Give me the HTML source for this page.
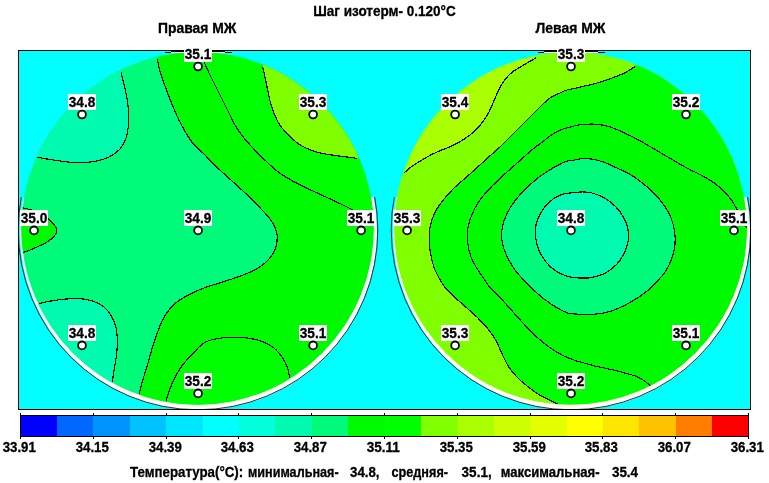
<!DOCTYPE html>
<html lang="ru"><head><meta charset="utf-8"><title>Термограмма</title>
<style>
html,body{margin:0;padding:0;background:#fff}
body{width:769px;height:483px;overflow:hidden}
svg{display:block}
text{font-family:"Liberation Sans",Arial,sans-serif;font-weight:bold;font-size:14px;fill:#000;stroke:#000;stroke-width:.3px}
.ct{fill:none;stroke:#000;stroke-width:1.2}
</style></head><body>
<svg width="769" height="483" viewBox="0 0 769 483">
<rect width="769" height="483" fill="#fff"/>
<defs>
<clipPath id="frame"><rect x="19" y="51" width="731" height="358"/></clipPath>
<clipPath id="low"><rect x="19" y="197" width="731" height="212"/></clipPath>
<clipPath id="cl"><circle cx="197.5" cy="228.4" r="176.2"/></clipPath>
<clipPath id="cr"><circle cx="570.5" cy="228.4" r="176.2"/></clipPath>
</defs>
<rect x="18.5" y="50.5" width="732" height="359" fill="#00ffff" stroke="#000" stroke-width="1"/>
<g clip-path="url(#frame)">
<g clip-path="url(#low)"><circle cx="198.5" cy="231.5" r="178.5" fill="#fff"/><circle cx="198" cy="230" r="179.8" fill="none" stroke="#000" stroke-width="0.8"/><circle cx="571.5" cy="231.5" r="178.5" fill="#fff"/><circle cx="571" cy="230" r="179.8" fill="none" stroke="#000" stroke-width="0.8"/></g>
<rect x="171" y="51" width="13" height="1" fill="#000"/><rect x="171" y="52" width="13" height="1" fill="#fff"/><rect x="165" y="52" width="6" height="1" fill="#000"/><rect x="212" y="51" width="13" height="1" fill="#000"/><rect x="212" y="52" width="13" height="1" fill="#fff"/><rect x="225" y="52" width="7" height="1" fill="#000"/>
<rect x="544" y="51" width="13" height="1" fill="#000"/><rect x="544" y="52" width="13" height="1" fill="#fff"/><rect x="538" y="52" width="6" height="1" fill="#000"/><rect x="585" y="51" width="13" height="1" fill="#000"/><rect x="585" y="52" width="13" height="1" fill="#fff"/><rect x="598" y="52" width="7" height="1" fill="#000"/>
<g clip-path="url(#cl)" shape-rendering="crispEdges">
<rect x="0" y="40" width="400" height="380" fill="#00fa7a"/>
<path d="M121.1 72.2C121.5 74.0 122.6 78.7 123.6 83.0C124.6 87.3 126.1 92.9 126.9 97.9C127.7 102.9 128.4 107.9 128.6 112.9C128.8 117.9 128.5 123.7 128.1 127.9C127.7 132.1 127.5 134.4 126.1 137.9C124.7 141.4 122.6 146.0 119.9 149.1C117.2 152.2 113.7 154.6 109.9 156.6C106.2 158.6 101.6 159.9 97.4 160.9C93.2 161.9 89.1 162.2 84.9 162.4C80.7 162.7 76.6 162.7 72.4 162.4C68.2 162.2 64.0 161.5 59.9 160.9C55.8 160.3 51.2 159.7 47.5 159.1C43.8 158.5 39.2 157.4 37.5 157.1L0.0 157.0L0.0 40.0L121.0 40.0Z" fill="#00fab0"/>
<path d="M38.7 303.5C41.8 302.9 50.9 300.8 57.4 300.0C63.9 299.2 71.6 298.3 77.4 298.5C83.2 298.7 88.0 299.6 92.4 301.0C96.8 302.4 100.5 304.3 103.6 306.7C106.7 309.1 109.0 311.9 111.1 315.5C113.2 319.1 115.0 323.4 116.1 328.0C117.1 332.6 117.4 337.9 117.4 342.9C117.4 347.9 116.7 352.9 116.1 357.9C115.5 362.9 114.2 368.8 113.6 372.9C113.0 377.0 112.6 380.8 112.4 382.4L112.0 420.0L0.0 420.0L0.0 303.0Z" fill="#00fab0"/>
<path d="M157.3 59.2C157.7 61.1 158.6 66.1 159.8 70.5C161.1 74.9 162.9 80.3 164.8 85.5C166.7 90.7 168.7 96.1 171.0 101.7C173.3 107.3 176.0 114.0 178.5 119.2C181.0 124.4 183.5 128.8 186.0 132.9C188.5 137.1 190.5 140.6 193.5 144.1C196.5 147.6 200.0 150.1 204.0 154.1C208.0 158.1 213.1 163.6 217.7 168.0C222.3 172.4 226.7 176.1 231.5 180.5C236.3 184.9 241.6 189.6 246.4 194.2C251.2 198.8 256.2 203.8 260.2 208.0C264.2 212.2 267.7 215.9 270.2 219.2C272.7 222.5 274.0 225.2 275.1 227.9C276.2 230.6 276.9 232.5 277.1 235.4C277.3 238.3 277.1 242.3 276.4 245.4C275.7 248.5 274.6 251.2 272.7 254.1C270.8 257.0 268.3 260.2 265.2 262.9C262.1 265.6 258.3 268.1 253.9 270.4C249.5 272.7 244.3 274.6 238.9 276.6C233.5 278.6 227.3 280.5 221.5 282.4C215.7 284.3 209.3 286.0 204.0 288.0C198.7 290.0 194.2 291.9 189.8 294.2C185.4 296.5 180.9 299.0 177.3 301.7C173.8 304.4 171.0 307.4 168.5 310.5C166.0 313.6 164.2 316.8 162.3 320.5C160.4 324.2 159.0 328.3 157.3 332.9C155.6 337.5 154.0 342.5 152.3 347.9C150.6 353.3 149.0 359.8 147.3 365.4C145.6 371.0 143.7 376.8 142.3 381.6C140.9 386.4 139.6 392.0 139.1 394.1L139.0 420.0L400.0 420.0L400.0 40.0L157.0 40.0Z" fill="#00fa00"/>
<path d="M19.0 207.5C19.8 207.6 22.1 207.7 23.7 208.0C25.3 208.3 26.0 208.4 28.7 209.2C31.4 210.0 36.7 211.3 40.0 213.0C43.3 214.7 46.4 217.3 48.7 219.2C51.0 221.1 52.4 222.5 53.7 224.2C55.0 225.9 56.5 227.3 56.7 229.2C56.9 231.1 56.4 233.3 54.9 235.4C53.4 237.5 50.8 239.6 47.5 241.7C44.2 243.8 39.0 246.1 35.0 247.9C31.0 249.7 26.4 251.4 23.7 252.4C21.0 253.4 19.8 253.7 19.0 254.0L0.0 254.0L0.0 207.0Z" fill="#00fa00"/>
<path d="M203.5 59.0C203.6 59.6 202.8 58.8 204.3 62.4C205.8 66.0 209.8 74.6 212.7 80.5C215.6 86.4 218.8 92.5 221.5 97.9C224.2 103.3 226.7 108.3 229.0 112.9C231.3 117.5 232.7 121.2 235.2 125.4C237.7 129.6 240.8 134.0 243.9 137.9C247.0 141.8 250.6 145.6 253.9 149.1C257.2 152.6 260.6 155.9 263.9 159.1C267.1 162.2 270.5 165.5 273.4 168.0C276.3 170.5 278.0 171.9 281.4 174.2C284.8 176.5 289.7 179.4 293.9 181.7C298.1 184.0 301.4 185.6 306.4 188.0C311.4 190.4 318.4 193.5 323.8 196.0C329.2 198.5 334.2 200.8 338.8 203.0C343.4 205.2 348.1 207.6 351.3 209.2C354.5 210.8 355.4 211.3 358.0 212.5C360.6 213.7 363.7 215.1 367.0 216.5C370.3 217.9 376.2 220.2 378.0 221.0L400.0 221.0L400.0 40.0L203.0 40.0Z" fill="#00ff00"/>
<path d="M166.1 400.4C166.7 398.5 168.4 392.9 169.8 389.1C171.2 385.4 172.7 381.8 174.8 377.9C176.9 373.9 179.4 369.3 182.3 365.4C185.2 361.4 188.7 357.9 192.3 354.2C195.9 350.4 200.0 345.5 204.0 342.9C208.0 340.3 211.9 339.6 216.5 338.7C221.1 337.8 226.5 337.3 231.5 337.2C236.5 337.1 241.4 337.2 246.4 337.9C251.4 338.6 256.8 339.5 261.4 341.2C266.0 342.9 270.4 345.1 273.9 347.9C277.4 350.7 280.3 354.6 282.6 357.9C284.9 361.2 286.4 364.5 287.6 367.9C288.8 371.3 289.3 376.6 289.6 378.4L290.0 420.0L166.0 420.0Z" fill="#00ff00"/>
<path d="M262.7 66.7C263.1 68.6 264.4 74.0 265.2 78.0C266.0 82.0 266.9 86.5 267.7 90.4C268.5 94.4 269.2 98.0 270.2 101.7C271.2 105.5 272.2 109.0 273.9 112.9C275.5 116.9 277.6 121.7 280.1 125.4C282.6 129.2 285.8 132.3 288.9 135.4C292.0 138.5 295.1 141.6 298.9 144.1C302.6 146.6 306.8 148.7 311.4 150.4C316.0 152.1 320.9 153.1 326.3 154.1C331.7 155.1 338.6 155.9 343.8 156.6C349.0 157.3 355.2 158.1 357.5 158.4L400.0 158.0L400.0 40.0L262.0 40.0Z" fill="#80ff00"/>
<path class="ct" d="M121.1 72.2C121.5 74.0 122.6 78.7 123.6 83.0C124.6 87.3 126.1 92.9 126.9 97.9C127.7 102.9 128.4 107.9 128.6 112.9C128.8 117.9 128.5 123.7 128.1 127.9C127.7 132.1 127.5 134.4 126.1 137.9C124.7 141.4 122.6 146.0 119.9 149.1C117.2 152.2 113.7 154.6 109.9 156.6C106.2 158.6 101.6 159.9 97.4 160.9C93.2 161.9 89.1 162.2 84.9 162.4C80.7 162.7 76.6 162.7 72.4 162.4C68.2 162.2 64.0 161.5 59.9 160.9C55.8 160.3 51.2 159.7 47.5 159.1C43.8 158.5 39.2 157.4 37.5 157.1"/>
<path class="ct" d="M157.3 59.2C157.7 61.1 158.6 66.1 159.8 70.5C161.1 74.9 162.9 80.3 164.8 85.5C166.7 90.7 168.7 96.1 171.0 101.7C173.3 107.3 176.0 114.0 178.5 119.2C181.0 124.4 183.5 128.8 186.0 132.9C188.5 137.1 190.5 140.6 193.5 144.1C196.5 147.6 200.0 150.1 204.0 154.1C208.0 158.1 213.1 163.6 217.7 168.0C222.3 172.4 226.7 176.1 231.5 180.5C236.3 184.9 241.6 189.6 246.4 194.2C251.2 198.8 256.2 203.8 260.2 208.0C264.2 212.2 267.7 215.9 270.2 219.2C272.7 222.5 274.0 225.2 275.1 227.9C276.2 230.6 276.9 232.5 277.1 235.4C277.3 238.3 277.1 242.3 276.4 245.4C275.7 248.5 274.6 251.2 272.7 254.1C270.8 257.0 268.3 260.2 265.2 262.9C262.1 265.6 258.3 268.1 253.9 270.4C249.5 272.7 244.3 274.6 238.9 276.6C233.5 278.6 227.3 280.5 221.5 282.4C215.7 284.3 209.3 286.0 204.0 288.0C198.7 290.0 194.2 291.9 189.8 294.2C185.4 296.5 180.9 299.0 177.3 301.7C173.8 304.4 171.0 307.4 168.5 310.5C166.0 313.6 164.2 316.8 162.3 320.5C160.4 324.2 159.0 328.3 157.3 332.9C155.6 337.5 154.0 342.5 152.3 347.9C150.6 353.3 149.0 359.8 147.3 365.4C145.6 371.0 143.7 376.8 142.3 381.6C140.9 386.4 139.6 392.0 139.1 394.1"/>
<path class="ct" d="M203.5 59.0C203.6 59.6 202.8 58.8 204.3 62.4C205.8 66.0 209.8 74.6 212.7 80.5C215.6 86.4 218.8 92.5 221.5 97.9C224.2 103.3 226.7 108.3 229.0 112.9C231.3 117.5 232.7 121.2 235.2 125.4C237.7 129.6 240.8 134.0 243.9 137.9C247.0 141.8 250.6 145.6 253.9 149.1C257.2 152.6 260.6 155.9 263.9 159.1C267.1 162.2 270.5 165.5 273.4 168.0C276.3 170.5 278.0 171.9 281.4 174.2C284.8 176.5 289.7 179.4 293.9 181.7C298.1 184.0 301.4 185.6 306.4 188.0C311.4 190.4 318.4 193.5 323.8 196.0C329.2 198.5 334.2 200.8 338.8 203.0C343.4 205.2 348.1 207.6 351.3 209.2C354.5 210.8 355.4 211.3 358.0 212.5C360.6 213.7 363.7 215.1 367.0 216.5C370.3 217.9 376.2 220.2 378.0 221.0"/>
<path class="ct" d="M262.7 66.7C263.1 68.6 264.4 74.0 265.2 78.0C266.0 82.0 266.9 86.5 267.7 90.4C268.5 94.4 269.2 98.0 270.2 101.7C271.2 105.5 272.2 109.0 273.9 112.9C275.5 116.9 277.6 121.7 280.1 125.4C282.6 129.2 285.8 132.3 288.9 135.4C292.0 138.5 295.1 141.6 298.9 144.1C302.6 146.6 306.8 148.7 311.4 150.4C316.0 152.1 320.9 153.1 326.3 154.1C331.7 155.1 338.6 155.9 343.8 156.6C349.0 157.3 355.2 158.1 357.5 158.4"/>
<path class="ct" d="M19.0 207.5C19.8 207.6 22.1 207.7 23.7 208.0C25.3 208.3 26.0 208.4 28.7 209.2C31.4 210.0 36.7 211.3 40.0 213.0C43.3 214.7 46.4 217.3 48.7 219.2C51.0 221.1 52.4 222.5 53.7 224.2C55.0 225.9 56.5 227.3 56.7 229.2C56.9 231.1 56.4 233.3 54.9 235.4C53.4 237.5 50.8 239.6 47.5 241.7C44.2 243.8 39.0 246.1 35.0 247.9C31.0 249.7 26.4 251.4 23.7 252.4C21.0 253.4 19.8 253.7 19.0 254.0"/>
<path class="ct" d="M38.7 303.5C41.8 302.9 50.9 300.8 57.4 300.0C63.9 299.2 71.6 298.3 77.4 298.5C83.2 298.7 88.0 299.6 92.4 301.0C96.8 302.4 100.5 304.3 103.6 306.7C106.7 309.1 109.0 311.9 111.1 315.5C113.2 319.1 115.0 323.4 116.1 328.0C117.1 332.6 117.4 337.9 117.4 342.9C117.4 347.9 116.7 352.9 116.1 357.9C115.5 362.9 114.2 368.8 113.6 372.9C113.0 377.0 112.6 380.8 112.4 382.4"/>
<path class="ct" d="M166.1 400.4C166.7 398.5 168.4 392.9 169.8 389.1C171.2 385.4 172.7 381.8 174.8 377.9C176.9 373.9 179.4 369.3 182.3 365.4C185.2 361.4 188.7 357.9 192.3 354.2C195.9 350.4 200.0 345.5 204.0 342.9C208.0 340.3 211.9 339.6 216.5 338.7C221.1 337.8 226.5 337.3 231.5 337.2C236.5 337.1 241.4 337.2 246.4 337.9C251.4 338.6 256.8 339.5 261.4 341.2C266.0 342.9 270.4 345.1 273.9 347.9C277.4 350.7 280.3 354.6 282.6 357.9C284.9 361.2 286.4 364.5 287.6 367.9C288.8 371.3 289.3 376.6 289.6 378.4"/>
</g>
<g clip-path="url(#cr)" shape-rendering="crispEdges">
<rect x="380" y="40" width="400" height="380" fill="#aaff00"/>
<path d="M535.8 58.0C533.6 59.2 526.6 63.2 522.8 65.5C519.0 67.8 515.7 69.4 512.8 71.7C509.9 74.0 507.6 76.3 505.3 79.2C503.0 82.1 501.0 85.7 499.1 89.2C497.2 92.7 495.8 96.7 494.1 100.4C492.4 104.2 491.0 108.2 489.1 111.7C487.2 115.2 485.4 118.4 482.9 121.7C480.4 125.0 477.4 128.6 474.1 131.6C470.8 134.6 466.8 137.4 462.9 139.9C458.9 142.4 454.6 144.7 450.4 146.6C446.2 148.5 442.1 149.7 437.9 151.6C433.7 153.5 429.8 155.4 425.4 157.9C421.0 160.4 415.3 164.1 411.7 166.6C408.1 169.1 405.3 171.9 404.0 173.0L380.0 173.0L380.0 440.0L780.0 440.0L780.0 40.0L536.0 40.0Z" fill="#80ff00"/>
<path d="M634.9 66.7C633.1 67.8 628.2 71.1 624.4 73.0C620.6 74.9 616.6 76.3 612.0 78.0C607.4 79.7 602.0 81.5 597.0 83.0C592.0 84.5 587.0 85.5 582.0 86.7C577.0 87.9 570.2 89.2 567.0 90.0C563.8 90.8 565.6 90.4 562.8 91.7C560.0 93.0 554.0 95.4 550.3 97.9C546.5 100.4 543.6 103.6 540.3 106.7C537.0 109.8 533.6 113.4 530.3 116.7C527.0 120.0 523.6 123.4 520.3 126.7C517.0 130.0 513.6 133.3 510.3 136.6C507.0 139.9 503.9 143.3 500.4 146.6C496.9 149.9 493.1 153.0 489.1 156.6C485.1 160.2 480.6 164.4 476.6 168.0C472.7 171.6 469.3 174.5 465.4 178.0C461.4 181.5 456.6 185.4 452.9 189.2C449.1 192.9 445.8 196.8 442.9 200.5C440.0 204.2 437.5 207.5 435.4 211.7C433.3 215.8 431.4 220.6 430.4 225.4C429.4 230.2 429.2 235.8 429.2 240.4C429.2 245.0 429.6 248.3 430.4 252.9C431.2 257.5 432.5 263.3 434.2 267.9C435.9 272.5 438.5 277.0 440.4 280.4C442.3 283.8 443.1 285.3 445.4 288.0C447.7 290.7 450.9 293.6 454.2 296.7C457.5 299.8 461.4 303.1 465.4 306.7C469.3 310.2 473.9 314.1 477.9 318.0C481.8 321.9 486.0 326.4 489.1 330.4C492.2 334.3 494.5 337.9 496.6 341.7C498.7 345.4 499.7 348.9 501.6 352.9C503.5 356.8 505.3 361.4 507.8 365.4C510.3 369.3 513.3 373.1 516.6 376.6C519.9 380.1 523.8 383.5 527.8 386.6C531.8 389.7 536.1 392.9 540.3 395.4C544.5 397.9 549.9 400.2 552.8 401.6C555.7 403.1 557.0 403.7 557.8 404.1L558.0 440.0L780.0 440.0L780.0 40.0L635.0 40.0Z" fill="#00ff00"/>
<path d="M750.0 232.0C748.8 230.3 745.2 225.8 743.0 222.0C740.8 218.2 738.7 212.8 736.8 209.2C734.9 205.6 733.9 203.4 731.8 200.5C729.7 197.6 727.2 194.6 724.3 191.7C721.4 188.8 718.0 185.7 714.3 183.0C710.5 180.3 706.4 178.0 701.8 175.5C697.2 173.0 692.3 170.9 686.9 168.0C681.5 165.1 674.8 161.1 669.4 157.9C664.0 154.8 659.4 152.0 654.4 149.1C649.4 146.2 644.4 143.1 639.4 140.4C634.4 137.7 629.4 135.2 624.4 132.9C619.4 130.6 614.4 128.2 609.4 126.7C604.4 125.2 599.5 124.5 594.5 124.2C589.5 123.9 584.1 124.3 579.5 124.9C574.9 125.5 569.8 127.2 567.0 127.9C564.2 128.6 565.2 128.1 562.8 129.1C560.4 130.1 556.1 132.0 552.8 134.1C549.5 136.2 546.1 139.1 542.8 141.6C539.5 144.1 536.1 146.4 532.8 149.1C529.5 151.8 526.3 154.8 522.8 157.9C519.3 161.1 515.3 164.7 511.6 168.0C507.9 171.3 504.3 174.2 500.4 178.0C496.4 181.8 491.6 186.3 487.9 190.5C484.1 194.7 480.6 198.8 477.9 203.0C475.2 207.2 473.3 211.2 471.6 215.4C469.9 219.6 468.6 223.7 467.9 227.9C467.2 232.1 467.0 235.8 467.4 240.4C467.8 245.0 468.9 250.8 470.4 255.4C471.9 260.0 474.3 263.9 476.6 267.9C478.9 271.8 481.8 275.8 484.1 279.1C486.4 282.5 487.7 284.9 490.4 288.0C493.1 291.1 496.7 294.1 500.4 298.0C504.1 301.9 508.6 307.1 512.8 311.7C516.9 316.3 521.1 321.1 525.3 325.5C529.5 329.9 533.6 334.2 537.8 337.9C542.0 341.6 546.1 345.0 550.3 347.9C554.5 350.8 558.7 353.3 562.8 355.4C566.9 357.5 572.2 359.3 575.0 360.4C577.8 361.4 576.2 360.8 579.5 361.7C582.8 362.6 589.5 364.7 594.5 365.9C599.5 367.1 604.4 367.9 609.4 369.1C614.4 370.3 619.8 371.6 624.4 372.9C629.0 374.1 633.6 375.3 636.9 376.6C640.2 377.9 642.1 379.3 644.4 380.9C646.7 382.4 649.6 385.1 650.6 385.9L651.0 440.0L780.0 440.0L780.0 232.0Z" fill="#00fa00"/>
<path d="M575.0 159.9C572.0 160.4 568.2 160.7 565.3 161.6C562.4 162.5 559.9 164.3 557.8 165.4C555.7 166.5 556.1 165.9 552.8 168.0C549.5 170.1 542.8 174.1 537.8 178.0C532.8 181.9 527.2 187.1 522.8 191.7C518.4 196.3 514.7 200.7 511.6 205.5C508.5 210.3 505.8 215.8 504.1 220.4C502.4 225.0 501.8 228.7 501.6 232.9C501.4 237.1 501.9 241.2 502.9 245.4C503.9 249.6 505.7 253.7 507.8 257.9C509.9 262.1 512.6 266.6 515.3 270.4C518.0 274.1 521.4 277.5 524.1 280.4C526.8 283.3 528.5 285.1 531.6 288.0C534.7 290.9 538.8 294.9 542.8 298.0C546.8 301.1 551.1 304.2 555.3 306.7C559.5 309.2 563.8 311.8 567.8 313.0C571.8 314.2 575.0 314.0 579.5 314.2C584.0 314.4 589.5 314.6 594.5 314.2C599.5 313.8 604.4 313.1 609.4 311.7C614.4 310.2 619.4 308.0 624.4 305.5C629.4 303.0 635.0 299.6 639.4 296.7C643.8 293.8 647.9 290.3 650.6 288.0C653.3 285.7 653.3 285.4 655.6 282.9C657.9 280.4 661.9 276.4 664.4 272.9C666.9 269.3 668.9 265.6 670.6 261.6C672.3 257.6 673.6 253.2 674.4 249.1C675.1 244.9 675.3 240.8 675.1 236.7C674.9 232.5 674.3 228.4 673.1 224.2C671.9 220.0 670.4 215.9 668.1 211.7C665.8 207.5 662.9 203.4 659.4 199.2C655.9 195.0 651.5 190.6 646.9 186.7C642.3 182.8 636.9 178.6 631.9 175.5C626.9 172.4 621.5 170.2 616.9 168.0C612.3 165.8 608.6 163.9 604.5 162.4C600.4 160.9 595.6 159.7 592.0 159.1C588.4 158.5 585.8 158.5 583.0 158.6C580.2 158.7 578.0 159.4 575.0 159.9Z" fill="#00fa7a"/>
<path d="M575.0 192.5C571.6 192.9 566.5 193.1 562.8 194.2C559.1 195.3 555.9 196.9 552.8 199.2C549.7 201.5 546.5 204.7 544.0 208.0C541.5 211.3 539.2 215.5 537.8 219.2C536.3 222.9 535.5 226.4 535.3 230.4C535.1 234.4 535.6 238.7 536.6 242.9C537.6 247.1 539.2 251.4 541.5 255.4C543.8 259.4 547.0 263.5 550.3 266.6C553.6 269.7 557.7 272.3 561.5 274.1C565.3 275.9 569.1 276.9 573.0 277.5C576.9 278.1 581.8 278.0 585.0 278.0C588.2 278.0 588.5 278.2 592.0 277.4C595.5 276.5 601.6 275.1 605.7 272.9C609.9 270.7 613.8 267.4 616.9 264.1C620.0 260.8 622.5 256.9 624.4 252.9C626.3 248.9 627.7 244.6 628.2 240.4C628.8 236.2 628.5 231.9 627.7 227.9C626.9 223.9 625.2 220.2 623.2 216.7C621.2 213.2 618.8 209.8 615.7 206.7C612.6 203.6 608.5 200.3 604.5 198.0C600.5 195.7 595.6 194.0 592.0 193.0C588.4 192.0 585.8 192.0 583.0 191.9C580.2 191.8 578.4 192.1 575.0 192.5Z" fill="#00fab0"/>
<path class="ct" d="M535.8 58.0C533.6 59.2 526.6 63.2 522.8 65.5C519.0 67.8 515.7 69.4 512.8 71.7C509.9 74.0 507.6 76.3 505.3 79.2C503.0 82.1 501.0 85.7 499.1 89.2C497.2 92.7 495.8 96.7 494.1 100.4C492.4 104.2 491.0 108.2 489.1 111.7C487.2 115.2 485.4 118.4 482.9 121.7C480.4 125.0 477.4 128.6 474.1 131.6C470.8 134.6 466.8 137.4 462.9 139.9C458.9 142.4 454.6 144.7 450.4 146.6C446.2 148.5 442.1 149.7 437.9 151.6C433.7 153.5 429.8 155.4 425.4 157.9C421.0 160.4 415.3 164.1 411.7 166.6C408.1 169.1 405.3 171.9 404.0 173.0"/>
<path class="ct" d="M634.9 66.7C633.1 67.8 628.2 71.1 624.4 73.0C620.6 74.9 616.6 76.3 612.0 78.0C607.4 79.7 602.0 81.5 597.0 83.0C592.0 84.5 587.0 85.5 582.0 86.7C577.0 87.9 570.2 89.2 567.0 90.0C563.8 90.8 565.6 90.4 562.8 91.7C560.0 93.0 554.0 95.4 550.3 97.9C546.5 100.4 543.6 103.6 540.3 106.7C537.0 109.8 533.6 113.4 530.3 116.7C527.0 120.0 523.6 123.4 520.3 126.7C517.0 130.0 513.6 133.3 510.3 136.6C507.0 139.9 503.9 143.3 500.4 146.6C496.9 149.9 493.1 153.0 489.1 156.6C485.1 160.2 480.6 164.4 476.6 168.0C472.7 171.6 469.3 174.5 465.4 178.0C461.4 181.5 456.6 185.4 452.9 189.2C449.1 192.9 445.8 196.8 442.9 200.5C440.0 204.2 437.5 207.5 435.4 211.7C433.3 215.8 431.4 220.6 430.4 225.4C429.4 230.2 429.2 235.8 429.2 240.4C429.2 245.0 429.6 248.3 430.4 252.9C431.2 257.5 432.5 263.3 434.2 267.9C435.9 272.5 438.5 277.0 440.4 280.4C442.3 283.8 443.1 285.3 445.4 288.0C447.7 290.7 450.9 293.6 454.2 296.7C457.5 299.8 461.4 303.1 465.4 306.7C469.3 310.2 473.9 314.1 477.9 318.0C481.8 321.9 486.0 326.4 489.1 330.4C492.2 334.3 494.5 337.9 496.6 341.7C498.7 345.4 499.7 348.9 501.6 352.9C503.5 356.8 505.3 361.4 507.8 365.4C510.3 369.3 513.3 373.1 516.6 376.6C519.9 380.1 523.8 383.5 527.8 386.6C531.8 389.7 536.1 392.9 540.3 395.4C544.5 397.9 549.9 400.2 552.8 401.6C555.7 403.1 557.0 403.7 557.8 404.1"/>
<path class="ct" d="M750.0 232.0C748.8 230.3 745.2 225.8 743.0 222.0C740.8 218.2 738.7 212.8 736.8 209.2C734.9 205.6 733.9 203.4 731.8 200.5C729.7 197.6 727.2 194.6 724.3 191.7C721.4 188.8 718.0 185.7 714.3 183.0C710.5 180.3 706.4 178.0 701.8 175.5C697.2 173.0 692.3 170.9 686.9 168.0C681.5 165.1 674.8 161.1 669.4 157.9C664.0 154.8 659.4 152.0 654.4 149.1C649.4 146.2 644.4 143.1 639.4 140.4C634.4 137.7 629.4 135.2 624.4 132.9C619.4 130.6 614.4 128.2 609.4 126.7C604.4 125.2 599.5 124.5 594.5 124.2C589.5 123.9 584.1 124.3 579.5 124.9C574.9 125.5 569.8 127.2 567.0 127.9C564.2 128.6 565.2 128.1 562.8 129.1C560.4 130.1 556.1 132.0 552.8 134.1C549.5 136.2 546.1 139.1 542.8 141.6C539.5 144.1 536.1 146.4 532.8 149.1C529.5 151.8 526.3 154.8 522.8 157.9C519.3 161.1 515.3 164.7 511.6 168.0C507.9 171.3 504.3 174.2 500.4 178.0C496.4 181.8 491.6 186.3 487.9 190.5C484.1 194.7 480.6 198.8 477.9 203.0C475.2 207.2 473.3 211.2 471.6 215.4C469.9 219.6 468.6 223.7 467.9 227.9C467.2 232.1 467.0 235.8 467.4 240.4C467.8 245.0 468.9 250.8 470.4 255.4C471.9 260.0 474.3 263.9 476.6 267.9C478.9 271.8 481.8 275.8 484.1 279.1C486.4 282.5 487.7 284.9 490.4 288.0C493.1 291.1 496.7 294.1 500.4 298.0C504.1 301.9 508.6 307.1 512.8 311.7C516.9 316.3 521.1 321.1 525.3 325.5C529.5 329.9 533.6 334.2 537.8 337.9C542.0 341.6 546.1 345.0 550.3 347.9C554.5 350.8 558.7 353.3 562.8 355.4C566.9 357.5 572.2 359.3 575.0 360.4C577.8 361.4 576.2 360.8 579.5 361.7C582.8 362.6 589.5 364.7 594.5 365.9C599.5 367.1 604.4 367.9 609.4 369.1C614.4 370.3 619.8 371.6 624.4 372.9C629.0 374.1 633.6 375.3 636.9 376.6C640.2 377.9 642.1 379.3 644.4 380.9C646.7 382.4 649.6 385.1 650.6 385.9"/>
<path class="ct" d="M575.0 159.9C572.0 160.4 568.2 160.7 565.3 161.6C562.4 162.5 559.9 164.3 557.8 165.4C555.7 166.5 556.1 165.9 552.8 168.0C549.5 170.1 542.8 174.1 537.8 178.0C532.8 181.9 527.2 187.1 522.8 191.7C518.4 196.3 514.7 200.7 511.6 205.5C508.5 210.3 505.8 215.8 504.1 220.4C502.4 225.0 501.8 228.7 501.6 232.9C501.4 237.1 501.9 241.2 502.9 245.4C503.9 249.6 505.7 253.7 507.8 257.9C509.9 262.1 512.6 266.6 515.3 270.4C518.0 274.1 521.4 277.5 524.1 280.4C526.8 283.3 528.5 285.1 531.6 288.0C534.7 290.9 538.8 294.9 542.8 298.0C546.8 301.1 551.1 304.2 555.3 306.7C559.5 309.2 563.8 311.8 567.8 313.0C571.8 314.2 575.0 314.0 579.5 314.2C584.0 314.4 589.5 314.6 594.5 314.2C599.5 313.8 604.4 313.1 609.4 311.7C614.4 310.2 619.4 308.0 624.4 305.5C629.4 303.0 635.0 299.6 639.4 296.7C643.8 293.8 647.9 290.3 650.6 288.0C653.3 285.7 653.3 285.4 655.6 282.9C657.9 280.4 661.9 276.4 664.4 272.9C666.9 269.3 668.9 265.6 670.6 261.6C672.3 257.6 673.6 253.2 674.4 249.1C675.1 244.9 675.3 240.8 675.1 236.7C674.9 232.5 674.3 228.4 673.1 224.2C671.9 220.0 670.4 215.9 668.1 211.7C665.8 207.5 662.9 203.4 659.4 199.2C655.9 195.0 651.5 190.6 646.9 186.7C642.3 182.8 636.9 178.6 631.9 175.5C626.9 172.4 621.5 170.2 616.9 168.0C612.3 165.8 608.6 163.9 604.5 162.4C600.4 160.9 595.6 159.7 592.0 159.1C588.4 158.5 585.8 158.5 583.0 158.6C580.2 158.7 578.0 159.4 575.0 159.9Z"/>
<path class="ct" d="M575.0 192.5C571.6 192.9 566.5 193.1 562.8 194.2C559.1 195.3 555.9 196.9 552.8 199.2C549.7 201.5 546.5 204.7 544.0 208.0C541.5 211.3 539.2 215.5 537.8 219.2C536.3 222.9 535.5 226.4 535.3 230.4C535.1 234.4 535.6 238.7 536.6 242.9C537.6 247.1 539.2 251.4 541.5 255.4C543.8 259.4 547.0 263.5 550.3 266.6C553.6 269.7 557.7 272.3 561.5 274.1C565.3 275.9 569.1 276.9 573.0 277.5C576.9 278.1 581.8 278.0 585.0 278.0C588.2 278.0 588.5 278.2 592.0 277.4C595.5 276.5 601.6 275.1 605.7 272.9C609.9 270.7 613.8 267.4 616.9 264.1C620.0 260.8 622.5 256.9 624.4 252.9C626.3 248.9 627.7 244.6 628.2 240.4C628.8 236.2 628.5 231.9 627.7 227.9C626.9 223.9 625.2 220.2 623.2 216.7C621.2 213.2 618.8 209.8 615.7 206.7C612.6 203.6 608.5 200.3 604.5 198.0C600.5 195.7 595.6 194.0 592.0 193.0C588.4 192.0 585.8 192.0 583.0 191.9C580.2 191.8 578.4 192.1 575.0 192.5Z"/>
</g>
</g>
<rect x="184" y="46" width="28" height="16" fill="#fff"/><circle cx="198.1" cy="66.5" r="3.9" fill="#fff" stroke="#000" stroke-width="1.8"/>
<rect x="68" y="94" width="28" height="16" fill="#fff"/><circle cx="82.0" cy="114.5" r="3.9" fill="#fff" stroke="#000" stroke-width="1.8"/>
<rect x="299" y="94" width="28" height="16" fill="#fff"/><circle cx="313.1" cy="114.5" r="3.9" fill="#fff" stroke="#000" stroke-width="1.8"/>
<rect x="20" y="210" width="28" height="16" fill="#fff"/><circle cx="34.0" cy="230.4" r="3.9" fill="#fff" stroke="#000" stroke-width="1.8"/>
<rect x="184" y="210" width="28" height="16" fill="#fff"/><circle cx="198.1" cy="230.4" r="3.9" fill="#fff" stroke="#000" stroke-width="1.8"/>
<rect x="347" y="210" width="28" height="16" fill="#fff"/><circle cx="361.1" cy="230.4" r="3.9" fill="#fff" stroke="#000" stroke-width="1.8"/>
<rect x="68" y="325" width="28" height="16" fill="#fff"/><circle cx="82.0" cy="345.4" r="3.9" fill="#fff" stroke="#000" stroke-width="1.8"/>
<rect x="299" y="325" width="28" height="16" fill="#fff"/><circle cx="313.1" cy="345.4" r="3.9" fill="#fff" stroke="#000" stroke-width="1.8"/>
<rect x="184" y="373" width="28" height="16" fill="#fff"/><circle cx="198.1" cy="393.4" r="3.9" fill="#fff" stroke="#000" stroke-width="1.8"/>
<rect x="557" y="46" width="28" height="16" fill="#fff"/><circle cx="571.0" cy="66.5" r="3.9" fill="#fff" stroke="#000" stroke-width="1.8"/>
<rect x="441" y="94" width="28" height="16" fill="#fff"/><circle cx="455.1" cy="114.5" r="3.9" fill="#fff" stroke="#000" stroke-width="1.8"/>
<rect x="672" y="94" width="28" height="16" fill="#fff"/><circle cx="686.0" cy="114.5" r="3.9" fill="#fff" stroke="#000" stroke-width="1.8"/>
<rect x="393" y="210" width="28" height="16" fill="#fff"/><circle cx="407.1" cy="230.4" r="3.9" fill="#fff" stroke="#000" stroke-width="1.8"/>
<rect x="557" y="210" width="28" height="16" fill="#fff"/><circle cx="571.0" cy="230.4" r="3.9" fill="#fff" stroke="#000" stroke-width="1.8"/>
<rect x="720" y="210" width="28" height="16" fill="#fff"/><circle cx="734.0" cy="230.4" r="3.9" fill="#fff" stroke="#000" stroke-width="1.8"/>
<rect x="441" y="325" width="28" height="16" fill="#fff"/><circle cx="455.1" cy="345.4" r="3.9" fill="#fff" stroke="#000" stroke-width="1.8"/>
<rect x="672" y="325" width="28" height="16" fill="#fff"/><circle cx="686.0" cy="345.4" r="3.9" fill="#fff" stroke="#000" stroke-width="1.8"/>
<rect x="557" y="373" width="28" height="16" fill="#fff"/><circle cx="571.0" cy="393.4" r="3.9" fill="#fff" stroke="#000" stroke-width="1.8"/>
<rect x="20.0" y="415" width="37.2" height="22" fill="#0000ff" shape-rendering="crispEdges"/><rect x="57.0" y="415" width="36.6" height="22" fill="#0068ff" shape-rendering="crispEdges"/><rect x="93.4" y="415" width="36.6" height="22" fill="#0094ff" shape-rendering="crispEdges"/><rect x="129.8" y="415" width="36.6" height="22" fill="#00c2ff" shape-rendering="crispEdges"/><rect x="166.2" y="415" width="36.6" height="22" fill="#00e6ff" shape-rendering="crispEdges"/><rect x="202.6" y="415" width="36.6" height="22" fill="#00ffff" shape-rendering="crispEdges"/><rect x="239.0" y="415" width="36.6" height="22" fill="#00ffda" shape-rendering="crispEdges"/><rect x="275.4" y="415" width="36.6" height="22" fill="#00fab0" shape-rendering="crispEdges"/><rect x="311.8" y="415" width="36.6" height="22" fill="#00fa7a" shape-rendering="crispEdges"/><rect x="348.2" y="415" width="36.6" height="22" fill="#00fa00" shape-rendering="crispEdges"/><rect x="384.6" y="415" width="36.6" height="22" fill="#00ff00" shape-rendering="crispEdges"/><rect x="421.0" y="415" width="36.6" height="22" fill="#80ff00" shape-rendering="crispEdges"/><rect x="457.4" y="415" width="36.6" height="22" fill="#aaff00" shape-rendering="crispEdges"/><rect x="493.8" y="415" width="36.6" height="22" fill="#cdff00" shape-rendering="crispEdges"/><rect x="530.2" y="415" width="36.6" height="22" fill="#e6ff00" shape-rendering="crispEdges"/><rect x="566.6" y="415" width="36.6" height="22" fill="#ffff00" shape-rendering="crispEdges"/><rect x="603.0" y="415" width="36.6" height="22" fill="#ffe600" shape-rendering="crispEdges"/><rect x="639.4" y="415" width="36.6" height="22" fill="#ffc200" shape-rendering="crispEdges"/><rect x="675.8" y="415" width="36.6" height="22" fill="#ff7e00" shape-rendering="crispEdges"/><rect x="712.2" y="415" width="36.3" height="22" fill="#ff0000" shape-rendering="crispEdges"/>
<rect x="20" y="415" width="729" height="1" fill="#000"/><rect x="20" y="436" width="729" height="1" fill="#000"/>
<rect x="20" y="413" width="1" height="26" fill="#000"/><rect x="93" y="413" width="1" height="2" fill="#000"/><rect x="93" y="437" width="1" height="2" fill="#000"/><rect x="166" y="413" width="1" height="2" fill="#000"/><rect x="166" y="437" width="1" height="2" fill="#000"/><rect x="238" y="413" width="1" height="2" fill="#000"/><rect x="238" y="437" width="1" height="2" fill="#000"/><rect x="311" y="413" width="1" height="2" fill="#000"/><rect x="311" y="437" width="1" height="2" fill="#000"/><rect x="384" y="413" width="1" height="2" fill="#000"/><rect x="384" y="437" width="1" height="2" fill="#000"/><rect x="457" y="413" width="1" height="2" fill="#000"/><rect x="457" y="437" width="1" height="2" fill="#000"/><rect x="530" y="413" width="1" height="2" fill="#000"/><rect x="530" y="437" width="1" height="2" fill="#000"/><rect x="602" y="413" width="1" height="2" fill="#000"/><rect x="602" y="437" width="1" height="2" fill="#000"/><rect x="675" y="413" width="1" height="2" fill="#000"/><rect x="675" y="437" width="1" height="2" fill="#000"/><rect x="748" y="413" width="1" height="26" fill="#000"/><g style="filter:grayscale(1)">
<text x="198" y="59" text-anchor="middle" textLength="26.6" lengthAdjust="spacingAndGlyphs">35.1</text><text x="82" y="107" text-anchor="middle" textLength="26.6" lengthAdjust="spacingAndGlyphs">34.8</text><text x="313" y="107" text-anchor="middle" textLength="26.6" lengthAdjust="spacingAndGlyphs">35.3</text><text x="34" y="223" text-anchor="middle" textLength="26.6" lengthAdjust="spacingAndGlyphs">35.0</text><text x="198" y="223" text-anchor="middle" textLength="26.6" lengthAdjust="spacingAndGlyphs">34.9</text><text x="361" y="223" text-anchor="middle" textLength="26.6" lengthAdjust="spacingAndGlyphs">35.1</text><text x="82" y="338" text-anchor="middle" textLength="26.6" lengthAdjust="spacingAndGlyphs">34.8</text><text x="313" y="338" text-anchor="middle" textLength="26.6" lengthAdjust="spacingAndGlyphs">35.1</text><text x="198" y="386" text-anchor="middle" textLength="26.6" lengthAdjust="spacingAndGlyphs">35.2</text><text x="571" y="59" text-anchor="middle" textLength="26.6" lengthAdjust="spacingAndGlyphs">35.3</text><text x="455" y="107" text-anchor="middle" textLength="26.6" lengthAdjust="spacingAndGlyphs">35.4</text><text x="686" y="107" text-anchor="middle" textLength="26.6" lengthAdjust="spacingAndGlyphs">35.2</text><text x="407" y="223" text-anchor="middle" textLength="26.6" lengthAdjust="spacingAndGlyphs">35.3</text><text x="571" y="223" text-anchor="middle" textLength="26.6" lengthAdjust="spacingAndGlyphs">34.8</text><text x="734" y="223" text-anchor="middle" textLength="26.6" lengthAdjust="spacingAndGlyphs">35.1</text><text x="455" y="338" text-anchor="middle" textLength="26.6" lengthAdjust="spacingAndGlyphs">35.3</text><text x="686" y="338" text-anchor="middle" textLength="26.6" lengthAdjust="spacingAndGlyphs">35.1</text><text x="571" y="386" text-anchor="middle" textLength="26.6" lengthAdjust="spacingAndGlyphs">35.2</text><text x="19.3" y="452" text-anchor="middle" textLength="33.2" lengthAdjust="spacingAndGlyphs">33.91</text>
<text x="92.3" y="452" text-anchor="middle" textLength="33.2" lengthAdjust="spacingAndGlyphs">34.15</text>
<text x="165.3" y="452" text-anchor="middle" textLength="33.2" lengthAdjust="spacingAndGlyphs">34.39</text>
<text x="237.3" y="452" text-anchor="middle" textLength="33.2" lengthAdjust="spacingAndGlyphs">34.63</text>
<text x="310.3" y="452" text-anchor="middle" textLength="33.2" lengthAdjust="spacingAndGlyphs">34.87</text>
<text x="383.3" y="452" text-anchor="middle" textLength="33.2" lengthAdjust="spacingAndGlyphs">35.11</text>
<text x="456.3" y="452" text-anchor="middle" textLength="33.2" lengthAdjust="spacingAndGlyphs">35.35</text>
<text x="529.3" y="452" text-anchor="middle" textLength="33.2" lengthAdjust="spacingAndGlyphs">35.59</text>
<text x="601.3" y="452" text-anchor="middle" textLength="33.2" lengthAdjust="spacingAndGlyphs">35.83</text>
<text x="674.3" y="452" text-anchor="middle" textLength="33.2" lengthAdjust="spacingAndGlyphs">36.07</text>
<text x="747.3" y="452" text-anchor="middle" textLength="33.2" lengthAdjust="spacingAndGlyphs">36.31</text>
<text x="313.2" y="16" textLength="142.6" lengthAdjust="spacingAndGlyphs">Шаг изотерм- 0.120°C</text>
<text x="158.0" y="33" textLength="78.3" lengthAdjust="spacingAndGlyphs">Правая МЖ</text>
<text x="535.6" y="33" textLength="69.8" lengthAdjust="spacingAndGlyphs">Левая МЖ</text>
<text x="130.0" y="477" textLength="113.2" lengthAdjust="spacingAndGlyphs">Температура(°C):</text>
<text x="248.0" y="477" textLength="90.6" lengthAdjust="spacingAndGlyphs">минимальная-</text>
<text x="350.0" y="477" textLength="29.5" lengthAdjust="spacingAndGlyphs">34.8,</text>
<text x="391.5" y="477" textLength="56.5" lengthAdjust="spacingAndGlyphs">средняя-</text>
<text x="461.6" y="477" textLength="30.1" lengthAdjust="spacingAndGlyphs">35.1,</text>
<text x="500.8" y="477" textLength="98.8" lengthAdjust="spacingAndGlyphs">максимальная-</text>
<text x="611.9" y="477" textLength="26.2" lengthAdjust="spacingAndGlyphs">35.4</text>
</g>
</svg></body></html>
